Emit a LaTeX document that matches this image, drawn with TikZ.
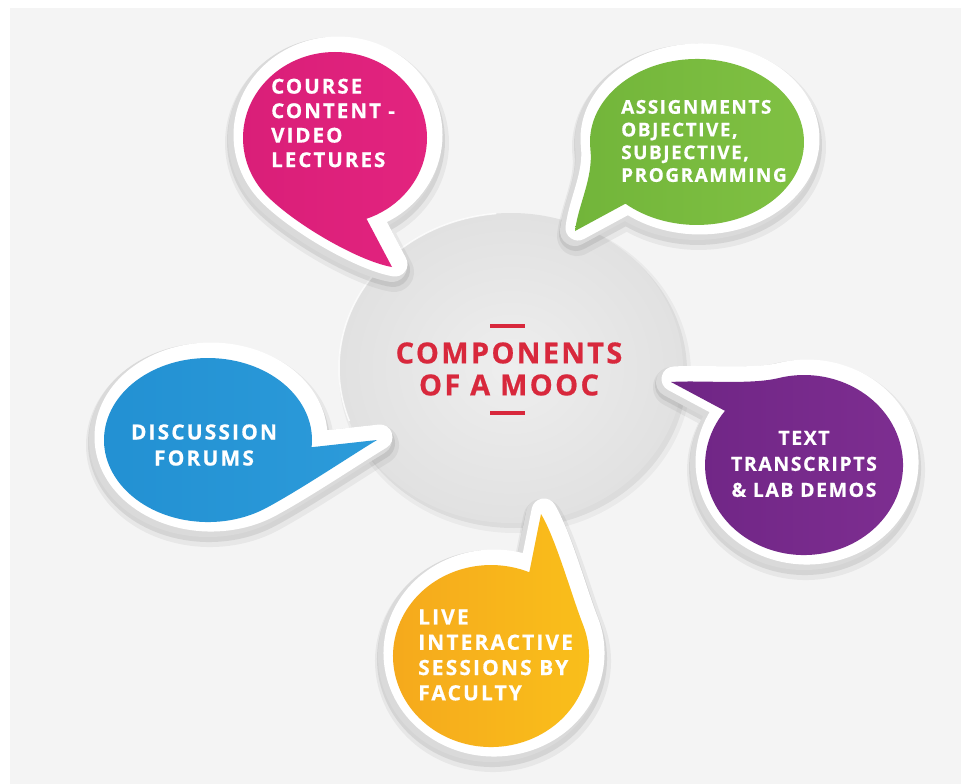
\documentclass[tikz,border=0pt]{standalone}
\usepackage{fontspec}
\newfontfamily\fontpink[LetterSpace=10, BoldFeatures={FakeBold=0.6}]{Open Sans}
\newfontfamily\fontgreen[LetterSpace=8, BoldFeatures={FakeBold=0.6}]{Open Sans}
\newfontfamily\fontpurple[LetterSpace=8, BoldFeatures={FakeBold=0.6}]{Open Sans}
\newfontfamily\fontwide[LetterSpace=10, BoldFeatures={FakeBold=0.6}]{Open Sans}
\newfontfamily\midfont[LetterSpace=8, BoldFeatures={FakeBold=0.6}]{Open Sans}
\usetikzlibrary{calc}
\definecolor{bgc}{HTML}{F4F4F4}
\definecolor{pinkc}{HTML}{E3247F}
\definecolor{pinkd}{HTML}{D91E78}
\definecolor{greenc}{HTML}{80C143}
\definecolor{greend}{HTML}{72B53A}
\definecolor{purplec}{HTML}{7E2E91}
\definecolor{purpled}{HTML}{6F2585}
\definecolor{bluec}{HTML}{2C9BDA}
\definecolor{blued}{HTML}{2290D2}
\definecolor{yellowc}{HTML}{FAC01B}
\definecolor{yellowd}{HTML}{F5A81C}
\definecolor{redc}{HTML}{D8283C}
\definecolor{rimc}{HTML}{DADADA}
\definecolor{circin}{HTML}{EEEEEE}
\definecolor{circout}{HTML}{E1E1E1}
\tikzset{
  shadowa/.style={draw=black, draw opacity=0.05, line width=40pt, line join=round},
  shadowb/.style={draw=black, draw opacity=0.08, line width=34pt, line join=round},
  rimbase/.style={draw=rimc, line width=30pt, line join=round},
  rimhi/.style={draw=white, line width=25pt, line join=round},
  bubtext/.style={text=white, inner sep=0pt},
  midtext/.style={text=redc, inner sep=0pt, align=center},
  redbar/.style={draw=redc, line width=3.5pt},
}
\def\pinkpath{(366.5,218.8) -- (392,267) .. controls (362,262) and (302,229) .. (269.95,198.81) arc[start angle=135, end angle=430, x radius=92, y radius=86] -- cycle}
\def\greenpath{(625.4,203.7) -- (575,231) .. controls (578,205) and (593.5,178) .. (590.4,149.2) arc[start angle=175, end angle=492, x radius=107, y radius=83] -- cycle}
\def\purplepath{(724.9,410.8) -- (671,382) .. controls (700,380) and (750,385) .. (778.4,378.1) arc[start angle=255, end angle=577, x radius=99, y radius=90] -- cycle}
\def\bluepath{(311.6,447.2) -- (377,440) .. controls (352,455) and (303,488) .. (267.65,507.2) arc[start angle=55, end angle=365, x radius=104, y radius=82] -- cycle}
\def\yellowpath{(529.3,572.2) -- (541,514) .. controls (556,539) and (571.4,595) .. (583.1,624.9) arc[start angle=340, end angle=653, x radius=98, y radius=91] -- cycle}
\newcommand\drawbubble[3]{%
  \draw[shadowa, shift={(2,5)}] #1;
  \draw[shadowb, shift={(1,3)}] #1;
  \draw[rimbase] #1;
  \draw[rimhi, shift={(3,-3)}] #1;
  \shade[left color=#3, right color=#2] #1;
}
\begin{document}
\begin{tikzpicture}[x=1pt,y=-1pt]
\useasboundingbox (0,0) rectangle (961,784);
\fill[white] (0,0) rectangle (961,784);
\fill[bgc] (10,8) rectangle (961,784);
% central circle
\fill[black, opacity=0.04] (515,374) ellipse [x radius=176, y radius=159];
\fill[black, opacity=0.06] (514,372) ellipse [x radius=173, y radius=156];
\shade[inner color=circin, outer color=circout] (511,368) ellipse [x radius=172, y radius=155];
\draw[white, opacity=0.8, line width=1.5pt] (511,368) ++(160:172 and 155) arc[start angle=160, end angle=265, x radius=172, y radius=155];
% bubbles
\drawbubble{\pinkpath}{pinkc}{pinkd}
\drawbubble{\greenpath}{greenc}{greend}
\drawbubble{\purplepath}{purplec}{purpled}
\drawbubble{\bluepath}{bluec}{blued}
\drawbubble{\yellowpath}{yellowc}{yellowd}
% texts
\node[midtext, font={\midfont\bfseries\fontsize{29}{32}\selectfont}] (mid) at (509,369) {COMPONENTS\\OF A MOOC};
\draw[redbar] (490,326) -- (525,326);
\draw[redbar] (490,413) -- (525,413);
\node[bubtext, anchor=west, align=left, font={\fontpink\bfseries\fontsize{20.5}{24.5}\selectfont}] (course) at (271,123) {COURSE\\CONTENT -\\VIDEO\\LECTURES};
\node[bubtext, anchor=west, align=left, font={\fontgreen\bfseries\fontsize{19}{22.7}\selectfont}] (assign) at (621,141) {ASSIGNMENTS\\OBJECTIVE,\\SUBJECTIVE,\\PROGRAMMING};
\node[bubtext, align=center, font={\fontpurple\bfseries\fontsize{19.5}{26}\selectfont}] (text) at (804,464) {TEXT\\TRANSCRIPTS\\\& LAB DEMOS};
\node[bubtext, align=center, font={\fontwide\bfseries\fontsize{21}{26}\selectfont}] (disc) at (204,445) {DISCUSSION\\FORUMS};
\node[bubtext, anchor=west, align=left, font={\fontwide\bfseries\fontsize{21}{25.3}\selectfont}] (live) at (418,655) {LIVE\\INTERACTIVE\\SESSIONS BY\\FACULTY};
\end{tikzpicture}
\end{document}
